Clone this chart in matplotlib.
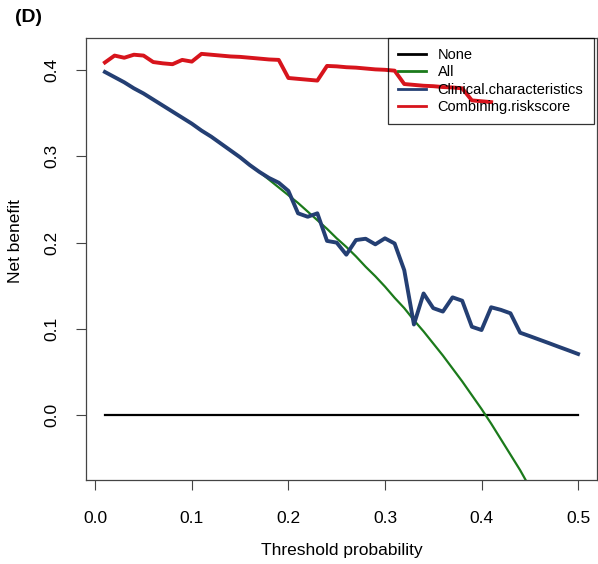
import numpy as np
import matplotlib
matplotlib.use("Agg")
import matplotlib.pyplot as plt

plt.rcParams['font.family'] = ['Liberation Sans', 'DejaVu Sans']

# Threshold grid (0.01 steps)
thresholds = [round(0.01 * i, 2) for i in range(1, 51)]

# "All" (treat all) curve
all_x = thresholds[:45]
all_nb = [0.398, 0.392, 0.386, 0.379, 0.373, 0.366, 0.359, 0.352, 0.345, 0.338,
          0.330, 0.323, 0.315, 0.307, 0.299, 0.290, 0.282, 0.273, 0.264, 0.255,
          0.246, 0.236, 0.226, 0.216, 0.205, 0.195, 0.184, 0.172, 0.161, 0.149,
          0.136, 0.124, 0.110, 0.097, 0.083, 0.069, 0.054, 0.039, 0.023, 0.007,
          -0.010, -0.028, -0.046, -0.064, -0.084]

# Clinical.characteristics
clin_nb = [0.398, 0.392, 0.386, 0.379, 0.373, 0.366, 0.359, 0.352, 0.345, 0.338,
           0.330, 0.323, 0.315, 0.307, 0.299, 0.290, 0.282, 0.275, 0.2695, 0.260,
           0.234, 0.230, 0.234, 0.202, 0.200, 0.186, 0.203, 0.2045, 0.198, 0.205,
           0.199, 0.168, 0.105, 0.141, 0.124, 0.120, 0.1365, 0.1326, 0.1024, 0.0986,
           0.125, 0.122, 0.118, 0.0955, 0.0915, 0.0874, 0.0833, 0.0791, 0.0750, 0.0708]

# Combining.riskscore (ends at 0.41)
comb_x = thresholds[:41]
comb_nb = [0.409, 0.417, 0.4145, 0.418, 0.417, 0.4095, 0.408, 0.407, 0.412, 0.410,
           0.419, 0.418, 0.417, 0.416, 0.4155, 0.4145, 0.4135, 0.4125, 0.412, 0.391,
           0.390, 0.389, 0.388, 0.405, 0.4045, 0.4035, 0.403, 0.402, 0.401, 0.4005,
           0.3995, 0.384, 0.383, 0.382, 0.3815, 0.3805, 0.380, 0.379, 0.365, 0.364,
           0.363]

none_nb = [0.0] * len(thresholds)

xticks = [0.0, 0.1, 0.2, 0.3, 0.4, 0.5]
yticks = [0.0, 0.1, 0.2, 0.3, 0.4]

fig = plt.figure(figsize=(5.98, 5.64), dpi=100)
ax = fig.add_axes([86 / 598, 1 - 480 / 564, (597 - 86) / 598, (480 - 38) / 564])

ax.plot(thresholds, none_nb, color='black', lw=1.6, label='None')
ax.plot(all_x, all_nb, color='#1b7a1b', lw=1.6, label='All')
ax.plot(thresholds, clin_nb, color='#243f73', lw=2.8, label='Clinical.characteristics')
ax.plot(comb_x, comb_nb, color='#d7141c', lw=2.8, label='Combining.riskscore')

ax.set_xlim(-0.0096, 0.5196)
ax.set_ylim(-0.0754, 0.4374)
ax.set_xticks(xticks)
ax.set_xticklabels([f'{v:.1f}' for v in xticks])
ax.set_yticks(yticks)
ax.set_yticklabels([f'{v:.1f}' for v in yticks], rotation=90, va='center')
ax.tick_params(axis='both', length=7, width=0.8, labelsize=12.5, pad=12, color='#444444')
ax.tick_params(axis='x', pad=15)

for s in ax.spines.values():
    s.set_color('#444444')
    s.set_linewidth(0.9)

ax.set_xlabel('Threshold probability', fontsize=12.5, va='center')
ax.set_ylabel('Net benefit', fontsize=12.5, va='center')
ax.xaxis.set_label_coords(0.5, -0.16)
ax.yaxis.set_label_coords(-0.138, 0.54)

leg = ax.legend(loc='upper left', bbox_to_anchor=(388 / 598, 1 - 38 / 564),
                bbox_transform=fig.transFigure, fontsize=10.5, frameon=True,
                fancybox=False, edgecolor='black',
                handlelength=1.9, handletextpad=0.8, labelspacing=0.22,
                borderpad=0.7, borderaxespad=0)
leg.get_frame().set_facecolor('none')
leg.get_frame().set_linewidth(0.9)
for h in leg.get_lines():
    h.set_linewidth(2.0)

fig.text(15 / 598, 1 - 18 / 564, '(D)', fontsize=14, fontweight='bold', va='center', ha='left')

fig.savefig('out.png', dpi=100)
plt.close(fig)
